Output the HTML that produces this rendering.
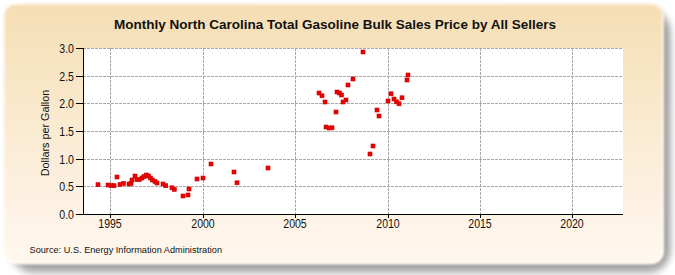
<!DOCTYPE html>
<html><head><meta charset="utf-8"><style>
html,body{margin:0;padding:0;width:675px;height:275px;background:#fff;overflow:hidden;}
svg{position:absolute;left:0;top:0;}
text{font-family:"Liberation Sans",sans-serif;fill:#111;}
.tl{font-size:12px;}
.title{font-size:13.5px;font-weight:bold;fill:#111;}
.src{font-size:9.2px;}
.yl{font-size:10.8px;}
.g{stroke:#a8a8a8;stroke-width:1;stroke-dasharray:3,1;}
.ax{stroke:#000;stroke-width:1;}
.p{fill:#ec0000;stroke:#cc0000;stroke-width:0.6;}
</style></head><body>
<svg width="675" height="275" viewBox="0 0 675 275">
<defs>
<linearGradient id="bg" x1="0" y1="0" x2="0" y2="1">
<stop offset="0" stop-color="#f5deb3"/><stop offset="0.75" stop-color="#fdf1e2"/><stop offset="1" stop-color="#fff8ee"/>
</linearGradient>
<filter id="sh" x="-10%" y="-10%" width="120%" height="120%"><feGaussianBlur stdDeviation="3.6 4.2"/></filter>
<filter id="soft" x="-5%" y="-5%" width="110%" height="110%"><feGaussianBlur stdDeviation="0.8"/></filter>
</defs>
<rect x="11" y="10" width="659.4" height="262.2" rx="22" fill="#000" opacity="0.38" filter="url(#sh)"/>
<g filter="url(#soft)">
<rect x="3.2" y="3.3" width="660.8" height="260.9" rx="13" fill="url(#bg)"/>
<rect x="4" y="4" width="659" height="259.2" rx="12" fill="none" stroke="#fff" stroke-opacity="0.6" stroke-width="2"/>
</g>
<text x="335" y="29" text-anchor="middle" class="title">Monthly North Carolina Total Gasoline Bulk Sales Price by All Sellers</text>
<rect x="83" y="48" width="540" height="166" fill="#fff"/>
<line x1="83" y1="48.5" x2="623" y2="48.5" class="g"/>
<line x1="83" y1="76.5" x2="623" y2="76.5" class="g"/>
<line x1="83" y1="103.5" x2="623" y2="103.5" class="g"/>
<line x1="83" y1="131.5" x2="623" y2="131.5" class="g"/>
<line x1="83" y1="159.5" x2="623" y2="159.5" class="g"/>
<line x1="83" y1="186.5" x2="623" y2="186.5" class="g"/>
<line x1="110.5" y1="48" x2="110.5" y2="214" class="g"/>
<line x1="203.5" y1="48" x2="203.5" y2="214" class="g"/>
<line x1="295.5" y1="48" x2="295.5" y2="214" class="g"/>
<line x1="388.5" y1="48" x2="388.5" y2="214" class="g"/>
<line x1="480.5" y1="48" x2="480.5" y2="214" class="g"/>
<line x1="572.5" y1="48" x2="572.5" y2="214" class="g"/>
<line x1="83.5" y1="48" x2="83.5" y2="215" class="ax"/>
<line x1="76" y1="214.5" x2="623" y2="214.5" class="ax"/>
<line x1="76" y1="48.5" x2="83" y2="48.5" class="ax"/>
<text transform="translate(74,52.6) scale(0.88,1)" text-anchor="end" class="tl">3.0</text>
<line x1="76" y1="76.5" x2="83" y2="76.5" class="ax"/>
<text transform="translate(74,80.6) scale(0.88,1)" text-anchor="end" class="tl">2.5</text>
<line x1="76" y1="103.5" x2="83" y2="103.5" class="ax"/>
<text transform="translate(74,107.6) scale(0.88,1)" text-anchor="end" class="tl">2.0</text>
<line x1="76" y1="131.5" x2="83" y2="131.5" class="ax"/>
<text transform="translate(74,135.6) scale(0.88,1)" text-anchor="end" class="tl">1.5</text>
<line x1="76" y1="159.5" x2="83" y2="159.5" class="ax"/>
<text transform="translate(74,163.6) scale(0.88,1)" text-anchor="end" class="tl">1.0</text>
<line x1="76" y1="186.5" x2="83" y2="186.5" class="ax"/>
<text transform="translate(74,190.6) scale(0.88,1)" text-anchor="end" class="tl">0.5</text>
<line x1="76" y1="214.5" x2="83" y2="214.5" class="ax"/>
<text transform="translate(74,218.6) scale(0.88,1)" text-anchor="end" class="tl">0.0</text>
<line x1="110.5" y1="214" x2="110.5" y2="218" class="ax"/>
<text transform="translate(110,227.8) scale(0.88,1)" text-anchor="middle" class="tl">1995</text>
<line x1="203.5" y1="214" x2="203.5" y2="218" class="ax"/>
<text transform="translate(203,227.8) scale(0.88,1)" text-anchor="middle" class="tl">2000</text>
<line x1="295.5" y1="214" x2="295.5" y2="218" class="ax"/>
<text transform="translate(295,227.8) scale(0.88,1)" text-anchor="middle" class="tl">2005</text>
<line x1="388.5" y1="214" x2="388.5" y2="218" class="ax"/>
<text transform="translate(388,227.8) scale(0.88,1)" text-anchor="middle" class="tl">2010</text>
<line x1="480.5" y1="214" x2="480.5" y2="218" class="ax"/>
<text transform="translate(480,227.8) scale(0.88,1)" text-anchor="middle" class="tl">2015</text>
<line x1="572.5" y1="214" x2="572.5" y2="218" class="ax"/>
<text transform="translate(572,227.8) scale(0.88,1)" text-anchor="middle" class="tl">2020</text>
<rect x="96.00" y="182.70" width="4" height="4" class="p"/>
<rect x="106.00" y="183.00" width="4" height="4" class="p"/>
<rect x="109.00" y="183.50" width="4" height="4" class="p"/>
<rect x="112.00" y="183.70" width="4" height="4" class="p"/>
<rect x="115.00" y="175.00" width="4" height="4" class="p"/>
<rect x="118.00" y="182.50" width="4" height="4" class="p"/>
<rect x="121.50" y="181.50" width="4" height="4" class="p"/>
<rect x="127.00" y="182.00" width="4" height="4" class="p"/>
<rect x="129.00" y="181.50" width="4" height="4" class="p"/>
<rect x="130.00" y="178.00" width="4" height="4" class="p"/>
<rect x="133.00" y="174.00" width="4" height="4" class="p"/>
<rect x="135.00" y="177.50" width="4" height="4" class="p"/>
<rect x="137.50" y="177.50" width="4" height="4" class="p"/>
<rect x="140.00" y="176.00" width="4" height="4" class="p"/>
<rect x="142.00" y="174.50" width="4" height="4" class="p"/>
<rect x="144.50" y="173.00" width="4" height="4" class="p"/>
<rect x="146.50" y="174.00" width="4" height="4" class="p"/>
<rect x="148.50" y="176.00" width="4" height="4" class="p"/>
<rect x="150.50" y="178.00" width="4" height="4" class="p"/>
<rect x="153.00" y="179.50" width="4" height="4" class="p"/>
<rect x="155.00" y="181.00" width="4" height="4" class="p"/>
<rect x="161.00" y="182.00" width="4" height="4" class="p"/>
<rect x="163.70" y="183.70" width="4" height="4" class="p"/>
<rect x="170.00" y="185.80" width="4" height="4" class="p"/>
<rect x="172.30" y="187.40" width="4" height="4" class="p"/>
<rect x="181.00" y="194.00" width="4" height="4" class="p"/>
<rect x="186.00" y="193.00" width="4" height="4" class="p"/>
<rect x="187.00" y="187.00" width="4" height="4" class="p"/>
<rect x="195.00" y="177.00" width="4" height="4" class="p"/>
<rect x="201.00" y="176.00" width="4" height="4" class="p"/>
<rect x="209.00" y="162.00" width="4" height="4" class="p"/>
<rect x="232.00" y="170.00" width="4" height="4" class="p"/>
<rect x="235.00" y="180.80" width="4" height="4" class="p"/>
<rect x="266.00" y="166.00" width="4" height="4" class="p"/>
<rect x="317.00" y="91.00" width="4" height="4" class="p"/>
<rect x="320.00" y="93.80" width="4" height="4" class="p"/>
<rect x="323.00" y="100.00" width="4" height="4" class="p"/>
<rect x="324.00" y="125.00" width="4" height="4" class="p"/>
<rect x="327.00" y="126.00" width="4" height="4" class="p"/>
<rect x="330.00" y="125.80" width="4" height="4" class="p"/>
<rect x="334.00" y="110.00" width="4" height="4" class="p"/>
<rect x="335.00" y="90.00" width="4" height="4" class="p"/>
<rect x="337.50" y="91.00" width="4" height="4" class="p"/>
<rect x="339.50" y="93.00" width="4" height="4" class="p"/>
<rect x="341.00" y="100.00" width="4" height="4" class="p"/>
<rect x="344.00" y="98.00" width="4" height="4" class="p"/>
<rect x="346.00" y="83.00" width="4" height="4" class="p"/>
<rect x="351.00" y="77.00" width="4" height="4" class="p"/>
<rect x="361.00" y="50.00" width="4" height="4" class="p"/>
<rect x="368.00" y="152.00" width="4" height="4" class="p"/>
<rect x="371.00" y="144.00" width="4" height="4" class="p"/>
<rect x="375.00" y="108.00" width="4" height="4" class="p"/>
<rect x="377.00" y="114.00" width="4" height="4" class="p"/>
<rect x="386.00" y="99.00" width="4" height="4" class="p"/>
<rect x="389.00" y="91.80" width="4" height="4" class="p"/>
<rect x="392.00" y="97.00" width="4" height="4" class="p"/>
<rect x="394.50" y="99.80" width="4" height="4" class="p"/>
<rect x="397.00" y="101.80" width="4" height="4" class="p"/>
<rect x="400.00" y="95.80" width="4" height="4" class="p"/>
<rect x="405.00" y="78.00" width="4" height="4" class="p"/>
<rect x="406.00" y="73.00" width="4" height="4" class="p"/>
<text transform="translate(49,133) rotate(-90)" text-anchor="middle" class="yl">Dollars per Gallon</text>
<text x="29.5" y="253.3" class="src">Source: U.S. Energy Information Administration</text>
</svg>
</body></html>
